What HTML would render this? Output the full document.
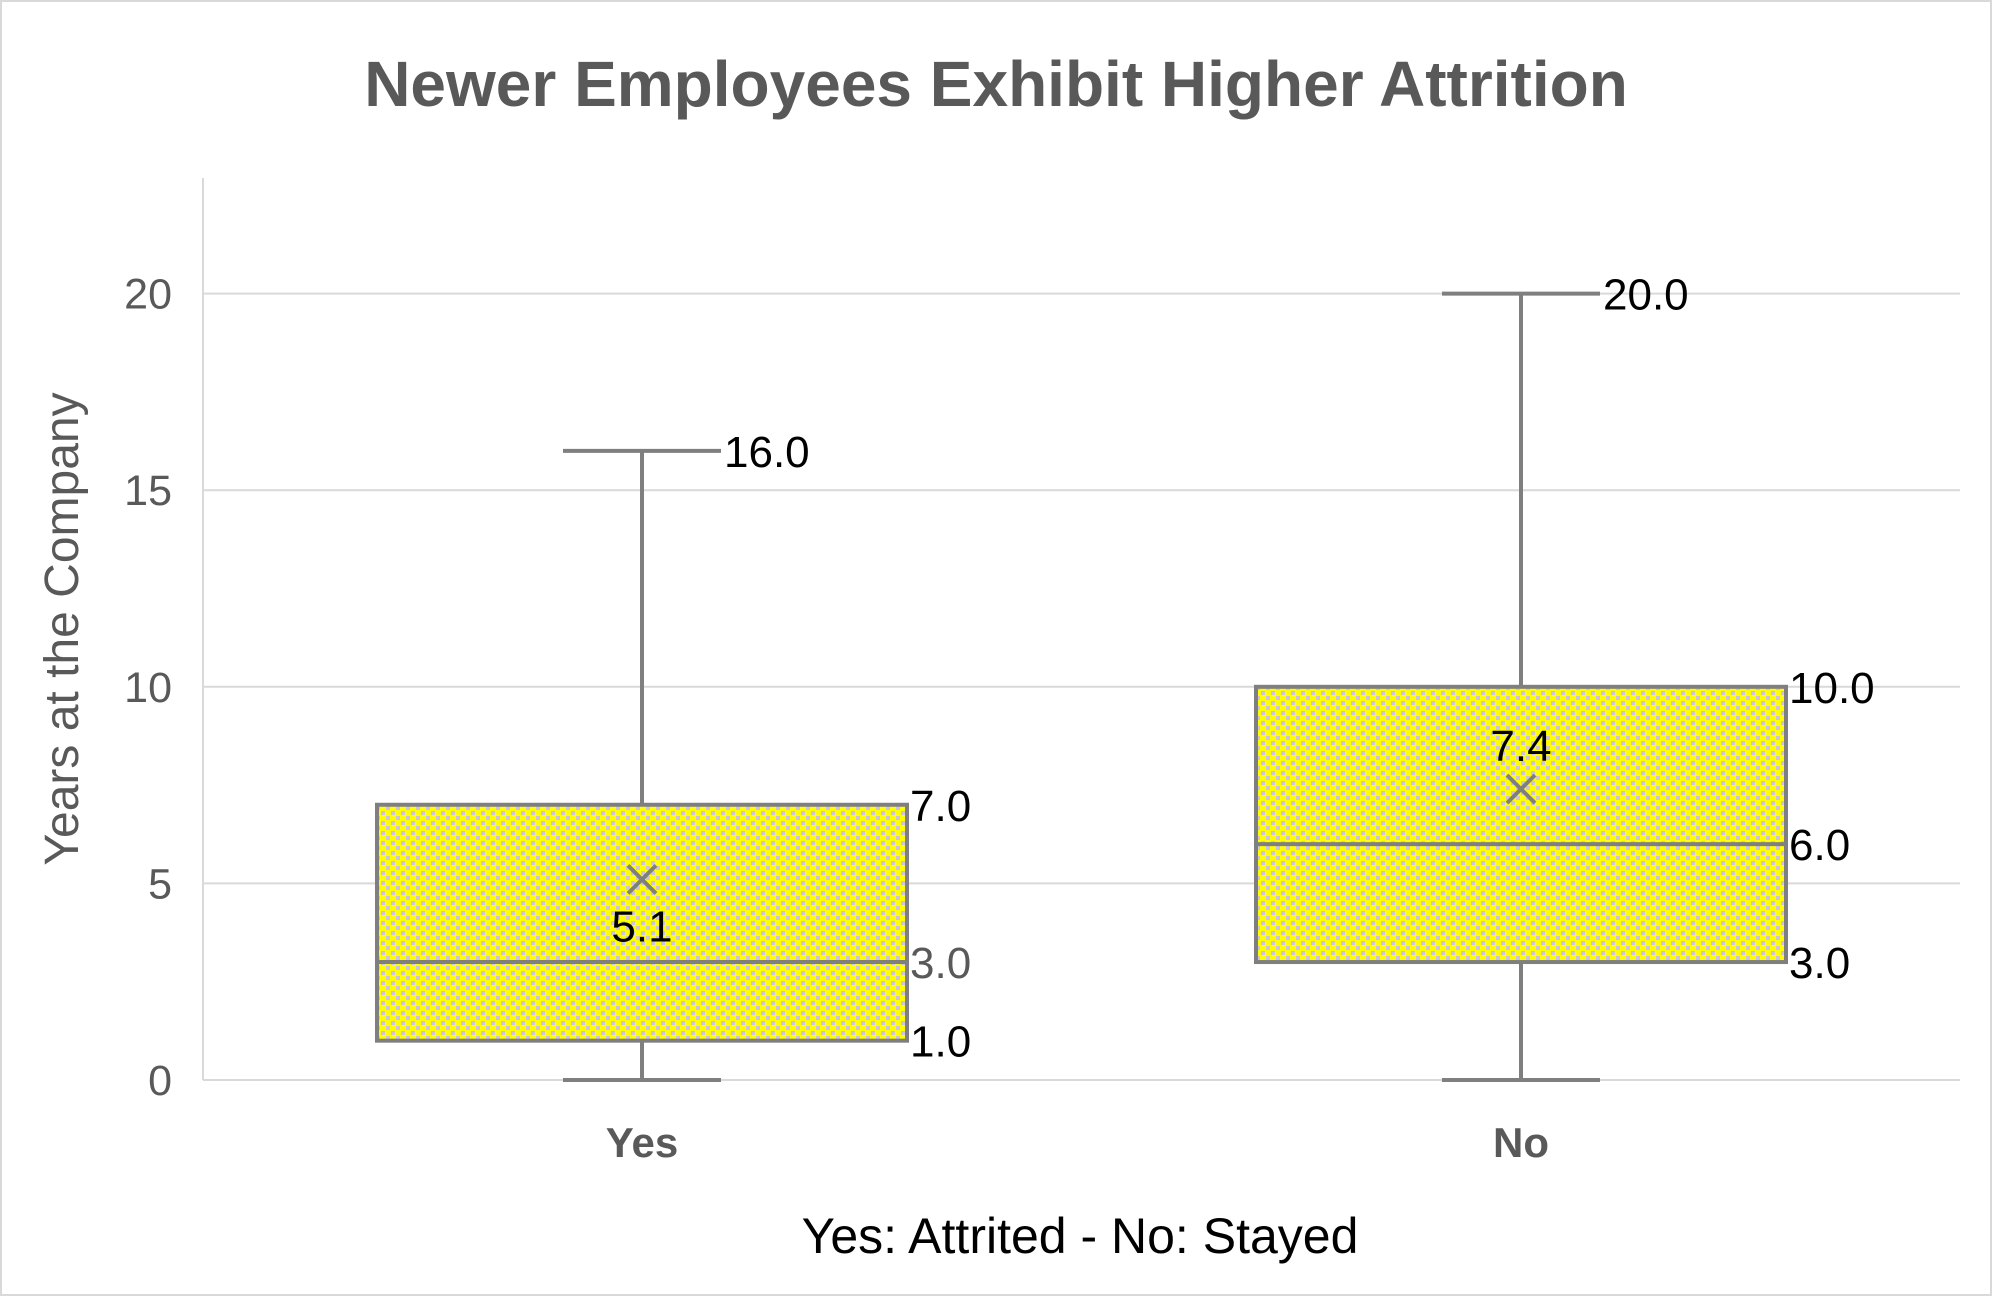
<!DOCTYPE html>
<html><head><meta charset="utf-8"><style>
html,body{margin:0;padding:0;background:#fff}
svg{display:block}
text{font-family:"Liberation Sans",sans-serif}
</style></head><body>
<svg id="chart" width="1992" height="1296" viewBox="0 0 1992 1296">
<defs>
<pattern id="dots" width="10" height="10" patternUnits="userSpaceOnUse">
<rect width="10" height="10" fill="#ffff00"/>
<rect x="1" y="1" width="4" height="4" fill="#cdc3dc"/>
<rect x="6" y="6" width="4" height="4" fill="#cdc3dc"/>
</pattern>
</defs>
<rect x="1" y="1" width="1990" height="1294" fill="#fff" stroke="#d9d9d9" stroke-width="2"/>
<text x="996" y="106" text-anchor="middle" font-size="64" font-weight="bold" fill="#595959">Newer Employees Exhibit Higher Attrition</text>
<g id="grid"></g>
<line x1="203" y1="178" x2="203" y2="1080" stroke="#d9d9d9" stroke-width="2"/>
<text transform="translate(78,629) rotate(-90)" text-anchor="middle" font-size="48" fill="#595959">Years at the Company</text>
<text x="1080" y="1253" text-anchor="middle" font-size="50" fill="#000">Yes: Attrited - No: Stayed</text>
<g id="boxes"></g>
</svg>
<script>
const categories = ["Yes", "No"];
const mins = [0, 0];
const q1s = [1, 3];
const medians = [3, 6];
const q3s = [7, 10];
const maxs = [16, 20];
const means = [5.1, 7.4];
const yTicks = [0, 5, 10, 15, 20];

const NS = "http://www.w3.org/2000/svg";
const y = v => 1080 - v * 39.32;
const xc = i => 642 + i * 879;
const boxHalf = 265, capHalf = 79;
function el(tag, attrs, parent, txt){
  const e = document.createElementNS(NS, tag);
  for (const k in attrs) e.setAttribute(k, attrs[k]);
  if (txt !== undefined) e.textContent = txt;
  parent.appendChild(e); return e;
}
const grid = document.getElementById("grid");
yTicks.forEach(t => {
  const g = el("line", {x1:203, x2:1960, y1:y(t), y2:y(t), stroke:"#d9d9d9", "stroke-width":2}, grid);
  
  
  const l = el("text", {x:172, y:y(t)+15, "text-anchor":"end", "font-size":43, fill:"#595959"}, grid, String(t));
  
  
});
const boxes = document.getElementById("boxes");
const st = {stroke:"#7f7f7f", "stroke-width":4, fill:"none"};
categories.forEach((c, i) => {
  const cx = xc(i);
  const g = el("g", {}, boxes);
  
  
  el("line", Object.assign({x1:cx, x2:cx, y1:y(maxs[i]), y2:y(q3s[i])}, st), g);
  el("line", Object.assign({x1:cx, x2:cx, y1:y(q1s[i]), y2:y(mins[i])}, st), g);
  el("line", Object.assign({x1:cx-capHalf, x2:cx+capHalf, y1:y(maxs[i]), y2:y(maxs[i])}, st), g);
  el("line", Object.assign({x1:cx-capHalf, x2:cx+capHalf, y1:y(mins[i]), y2:y(mins[i])}, st), g);
  el("rect", {x:cx-boxHalf, y:y(q3s[i]), width:boxHalf*2, height:y(q1s[i])-y(q3s[i]), fill:"url(#dots)", stroke:"#7f7f7f", "stroke-width":4}, g);
  el("line", Object.assign({x1:cx-boxHalf, x2:cx+boxHalf, y1:y(medians[i]), y2:y(medians[i])}, st), g);
  const my = y(means[i]);
  el("path", {d:`M${cx-14} ${my-14}L${cx+14} ${my+14}M${cx+14} ${my-14}L${cx-14} ${my+14}`, stroke:"#7f7f7f", "stroke-width":4, fill:"none"}, g);
  const lx = cx + boxHalf + 3;
  const labs = [[maxs[i], cx+capHalf+3, "#000"], [q3s[i], lx, "#000"], [medians[i], lx, i===0?"#595959":"#000"], [q1s[i], lx, "#000"]];
  labs.forEach(([v, x, col]) => {
    el("text", {x:x, y:y(v)+16, "font-size":44, fill:col}, g, v.toFixed(1));
  });
  const mty = i === 0 ? my + 62 : my - 28;
  el("text", {x:cx, y:mty, "text-anchor":"middle", "font-size":44, fill:"#000"}, g, means[i].toFixed(1));
  const cl = el("text", {x:cx, y:1157, "text-anchor":"middle", "font-size":42, "font-weight":"bold", fill:"#595959"}, boxes, c);
  
  
});
</script>
</body></html>
